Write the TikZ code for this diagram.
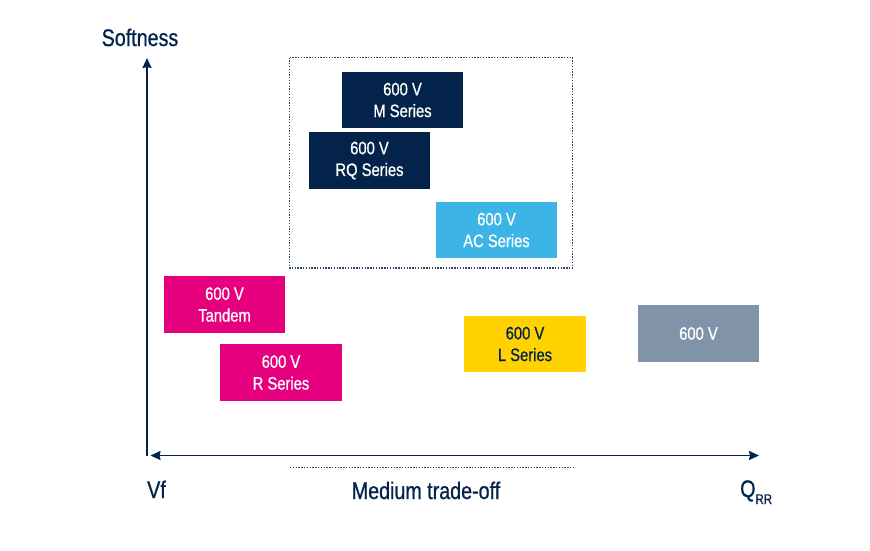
\documentclass[tikz,border=0pt]{standalone}
\usepackage{fontspec}
\setmainfont[FakeStretch=0.82,FakeBold=0.8]{Liberation Sans}
\usetikzlibrary{arrows.meta}
\definecolor{stnavy}{HTML}{03234B}
\definecolor{stlblue}{HTML}{3CB4E6}
\definecolor{stpink}{HTML}{E6007E}
\definecolor{styellow}{HTML}{FFD200}
\definecolor{stgray}{HTML}{8193A9}
\begin{document}
\begin{tikzpicture}[x=1pt,y=-1pt,
  serbox/.style={minimum width=121.5pt,minimum height=56.5pt,inner sep=0pt,align=center,
    font=\fontsize{18}{21.7}\selectfont,text=white},
  axlabel/.style={text=stnavy,inner sep=0pt,font=\fontsize{24}{28}\selectfont},
  axline/.style={draw=stnavy,line width=1.8pt},
  tip/.style={-{Stealth[length=10pt,width=9pt,inset=1pt]}},
  dotline/.style={draw=stnavy!85,line width=1.3pt,dash pattern=on 1.3pt off 1.5pt}
]
\useasboundingbox (0,0) rectangle (870,550);
% dotted group
\coordinate (g1) at (289.5,57.5);
\coordinate (g2) at (572.5,268);
\draw[dotline] (g1) rectangle (g2);
\coordinate (d1) at (290,467.7);
\coordinate (d2) at (573,467.7);
\draw[dotline] (d1) -- (d2);
% axes
\coordinate (O) at (147,455.5);
\coordinate (ytip) at (147,58);
\coordinate (xl) at (150.5,455.5);
\coordinate (xr) at (759,455.5);
\draw[axline,tip] (O) -- (ytip);
\draw[axline,{Stealth[length=10pt,width=9pt,inset=1pt]}-{Stealth[length=10pt,width=9pt,inset=1pt]}] (xl) -- (xr);
% axis labels
\node[axlabel,anchor=base west] (soft) at (101.5,46) {Softness};
\node[axlabel,anchor=base west] (vf) at (147,498) {Vf};
\node[axlabel,anchor=base] (med) at (426,499) {Medium trade-off};
\node[axlabel,anchor=base west] (qrr) at (740,497) {Q\raisebox{-7pt}{\fontsize{14}{14}\selectfont RR}};
% series boxes
\node[serbox,fill=stnavy] (m) at (402.5,100) {600 V\\M Series};
\node[serbox,fill=stnavy] (rq) at (369.5,160.5) {600 V\\RQ Series};
\node[serbox,fill=stlblue] (ac) at (496.5,230) {600 V\\AC Series};
\node[serbox,fill=stpink] (tan) at (224.5,304.5) {600 V\\Tandem};
\node[serbox,fill=stpink] (r) at (281,372.5) {600 V\\R Series};
\node[serbox,fill=styellow,text=stnavy] (l) at (525,344) {600 V\\L Series};
\node[serbox,fill=stgray] (g) at (698.5,333.5) {600 V};
\end{tikzpicture}
\end{document}
